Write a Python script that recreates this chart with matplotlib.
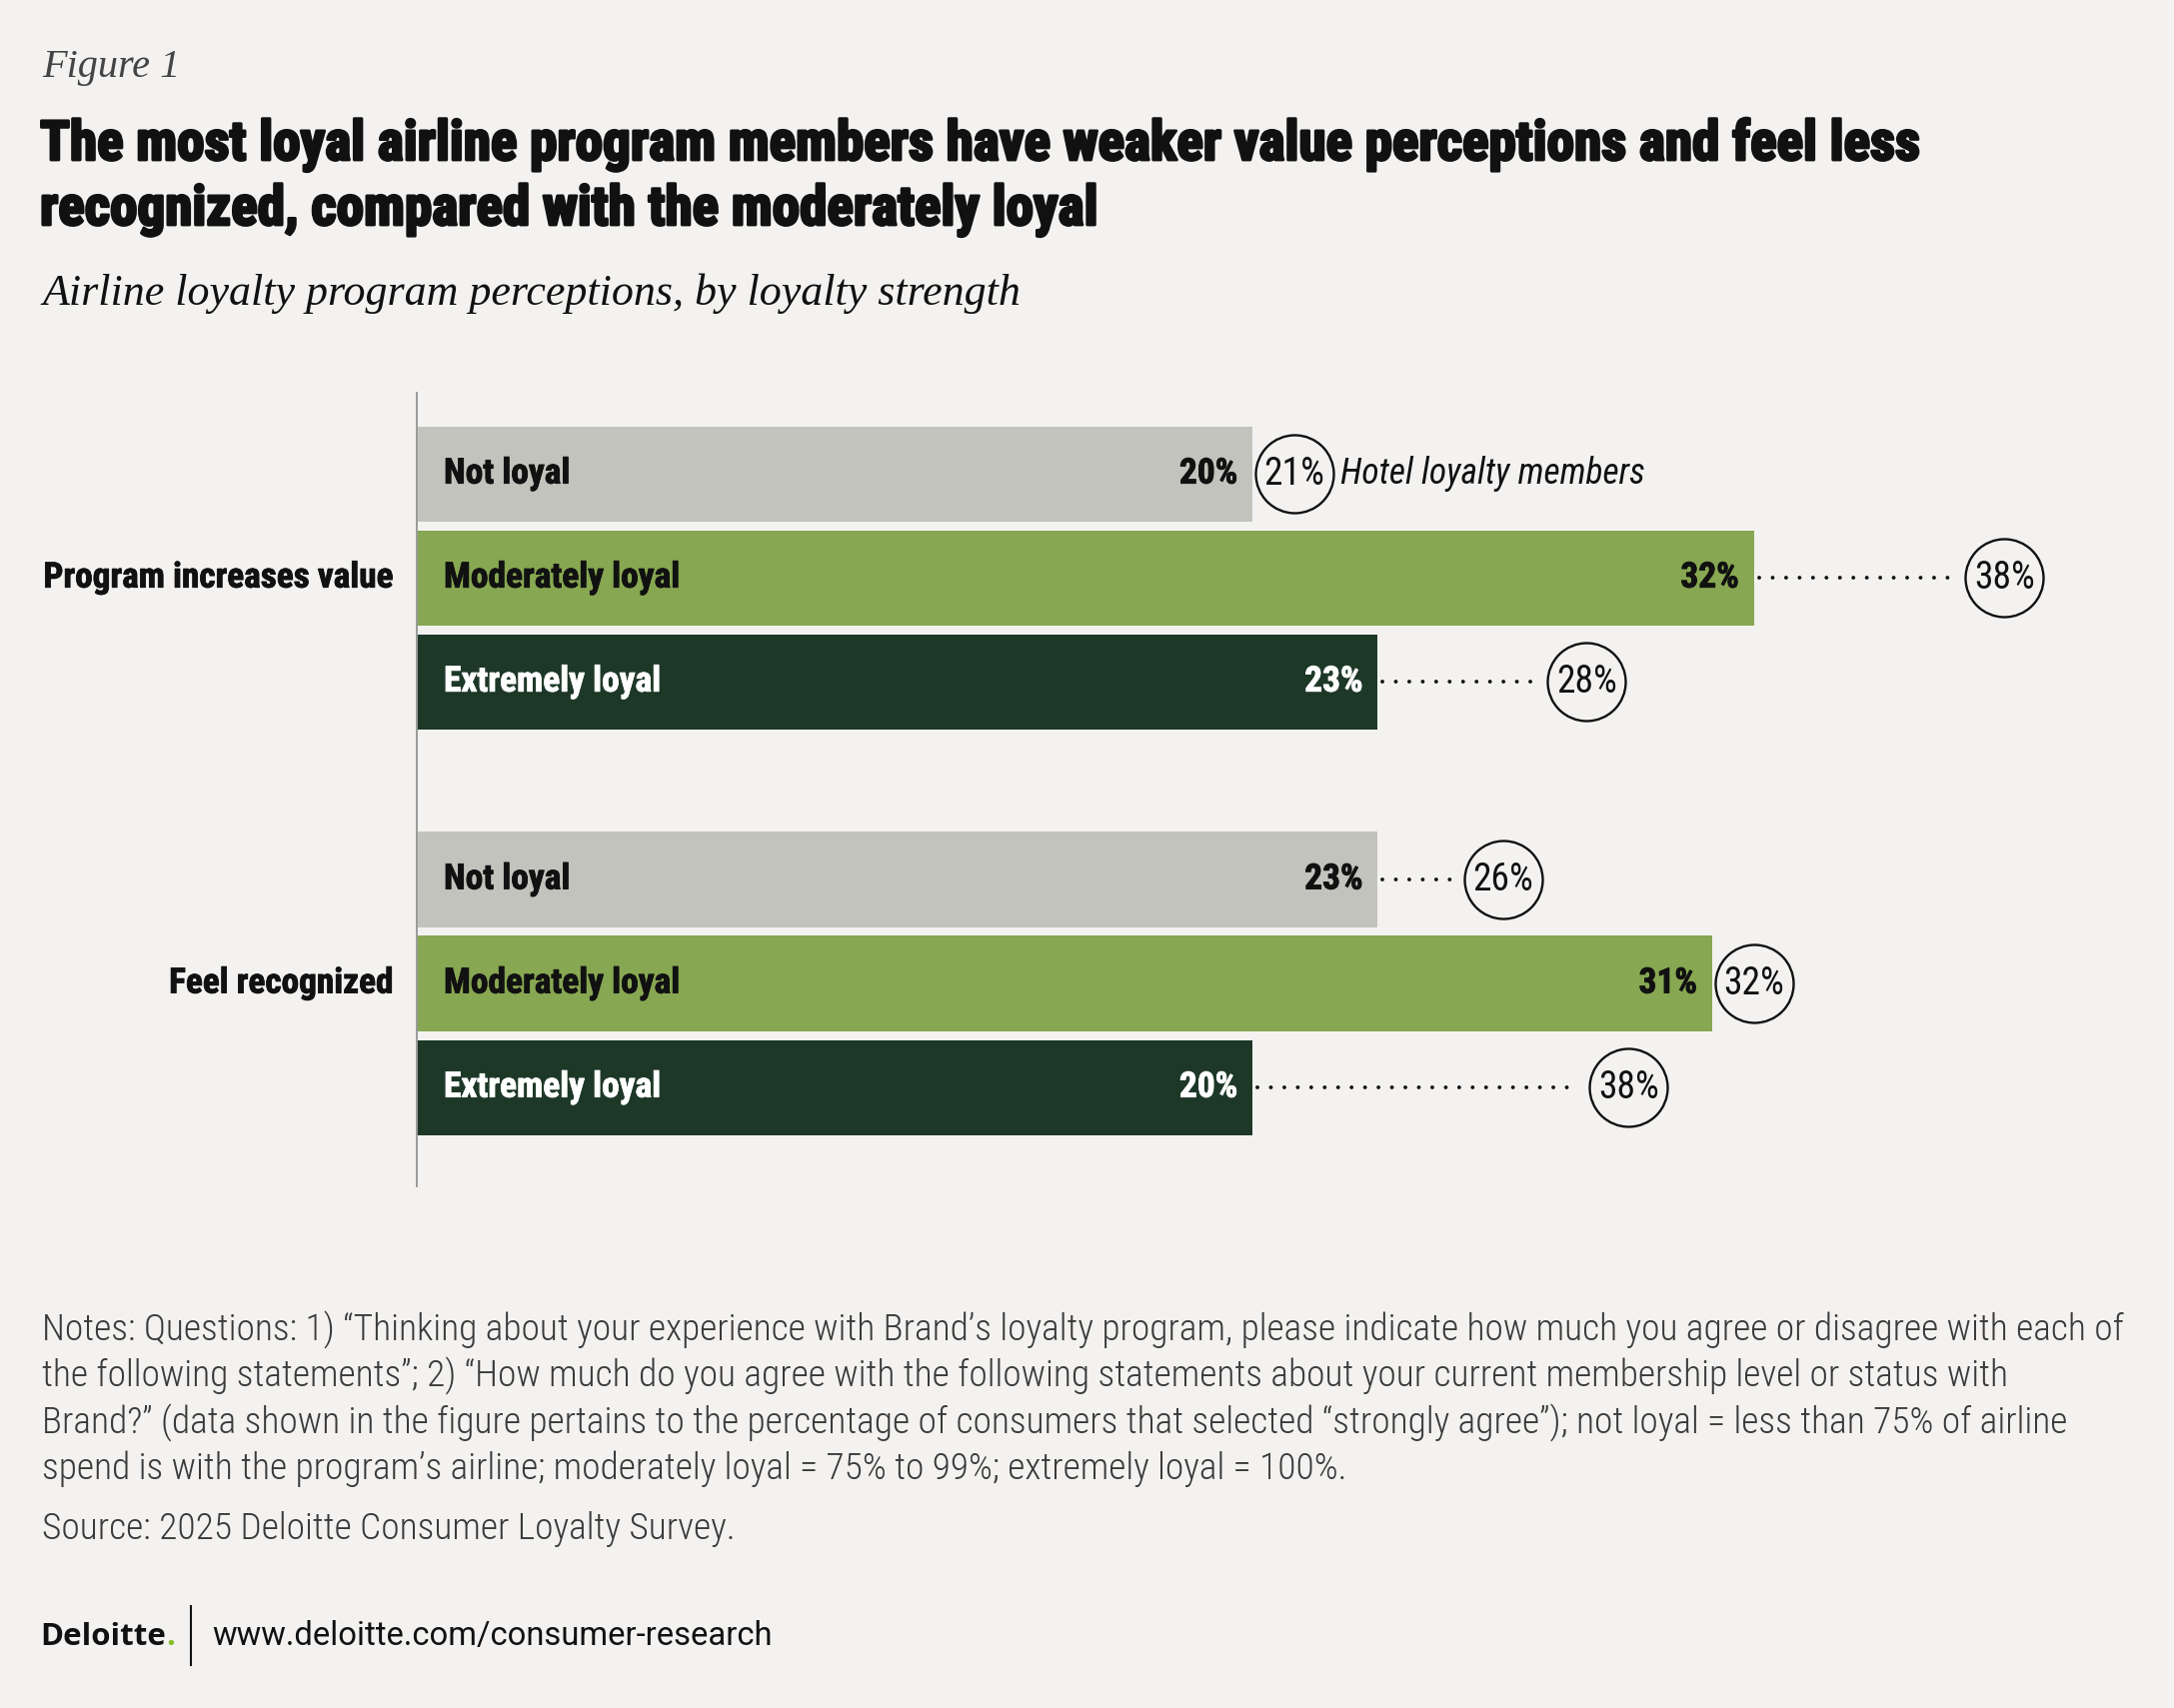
import matplotlib.pyplot as plt
import matplotlib.patheffects as pe
from matplotlib.lines import Line2D

# data
groups = ["Program increases value", "Feel recognized"]
segments = ["Not loyal", "Moderately loyal", "Extremely loyal"]
airline_pct = [[20, 32, 23], [23, 31, 20]]
# hotel circles: position as drawn, and the label printed in the circle
hotel_pos = [[21, 38, 28], [26, 32, 29]]
hotel_labels = [["21%", "38%", "28%"], ["26%", "32%", "38%"]]

notes = [
    "Notes: Questions: 1) \u201cThinking about your experience with Brand\u2019s loyalty program, please indicate how much you agree or disagree with each of",
    "the following statements\u201d; 2) \u201cHow much do you agree with the following statements about your current membership level or status with",
    "Brand?\u201d (data shown in the figure pertains to the percentage of consumers that selected \u201cstrongly agree\u201d); not loyal = less than 75% of airline",
    "spend is with the program\u2019s airline; moderately loyal = 75% to 99%; extremely loyal = 100%.",
]
source = "Source: 2025 Deloitte Consumer Loyalty Survey."

# styling
bg = "#f3f2f0"
seg_colors = ["#c2c3bd", "#87a752", "#1e3828"]
seg_text = ["#111111", "#111111", "#ffffff"]
cond = ["Roboto Condensed", "Liberation Sans Narrow", "Roboto"]
serif = ["Liberation Serif", "DejaVu Serif"]

W, H = 2175, 1709
fig = plt.figure(figsize=(W / 100, H / 100), dpi=100, facecolor=bg)


def fx(x):
    return x / W


def fy(y):
    return 1 - y / H


# axes: x = percent, y = bar slots
ax_left, ax_top, ax_bottom = 417, 393, 1187
ppu = 41.8  # pixels per percent
xmax = 40
ax = fig.add_axes([fx(ax_left), fy(ax_bottom), xmax * ppu / W, (ax_bottom - ax_top) / H])
ax.set_facecolor(bg)
ax.set_xlim(0, xmax)
ax.set_ylim(6.85, -0.78)
for s in ["top", "right", "bottom"]:
    ax.spines[s].set_visible(False)
ax.spines["left"].set_color("#9a9a9a")
ax.spines["left"].set_linewidth(1.4)
ax.set_xticks([])
ax.set_yticks([])

group_start = [0, 3.9]
bar_h = 0.915
r_px = 39  # circle radius in px
bold_fx = [pe.withStroke(linewidth=0.6, foreground="#111111")]

for g, gname in enumerate(groups):
    ys = [group_start[g] + i for i in range(3)]
    ax.barh(ys, airline_pct[g], height=bar_h, color=seg_colors, zorder=2)
    ax.annotate(gname, (0, ys[1]), xytext=(-24 * 0.72, 0), textcoords="offset points",
                ha="right", va="center", fontsize=25.4, fontweight="bold", family=cond,
                color="#111111", path_effects=bold_fx)
    for i in range(3):
        v, h, y = airline_pct[g][i], hotel_pos[g][i], ys[i]
        stroke = [pe.withStroke(linewidth=0.6, foreground=seg_text[i])]
        ax.annotate(segments[i], (0, y), xytext=(27 * 0.72, 0), textcoords="offset points",
                    ha="left", va="center", fontsize=25.5, fontweight="bold", family=cond,
                    color=seg_text[i], path_effects=stroke)
        ax.annotate(f"{v}%", (v, y), xytext=(-15 * 0.72, 0), textcoords="offset points",
                    ha="right", va="center", fontsize=25.5, fontweight="bold", family=cond,
                    color=seg_text[i], path_effects=stroke)
        # dotted leader from bar end to circle
        x0 = v + 5 / ppu
        x1 = h - (r_px + 10) / ppu
        if x1 - x0 > 20 / ppu:
            ax.plot([x0, x1], [y, y], color="#111111", linewidth=2.8,
                    linestyle=(0, (0.01, 3.45)), dash_capstyle="round", zorder=3)
        ax.scatter([h], [y], s=(2 * r_px * 0.72) ** 2, facecolors=bg, edgecolors="#111111",
                   linewidths=1.7, zorder=4)
        ax.text(h, y, hotel_labels[g][i], ha="center", va="center", fontsize=27,
                family=cond, color="#111111", zorder=5)

ax.annotate("Hotel loyalty members", (hotel_pos[0][0], group_start[0]),
            xytext=((r_px + 7) * 0.72, 0), textcoords="offset points", ha="left", va="center",
            fontsize=25.6, style="italic", family=cond, color="#111111")

# header
fig.text(fx(42), fy(77), "Figure 1", fontsize=29, style="italic", family=serif,
         color="#444444", va="baseline")
title_lines = ["The most loyal airline program members have weaker value perceptions and feel less",
               "recognized, compared with the moderately loyal"]
for k, line in enumerate(title_lines):
    fig.text(fx(40), fy(160 + 65 * k), line, fontsize=39.7, fontweight="bold", family=cond,
             color="#111111", va="baseline",
             path_effects=[pe.withStroke(linewidth=2.0, foreground="#111111")])
fig.text(fx(42), fy(305), "Airline loyalty program perceptions, by loyalty strength", fontsize=31.7,
         style="italic", family=serif, color="#111111", va="baseline")

# notes and source
for k, line in enumerate(notes):
    fig.text(fx(42), fy(1341 + 46.5 * k), line, fontsize=26.9, fontweight="light", family=cond,
             color="#3a3a3a", va="baseline")
fig.text(fx(42), fy(1540), source, fontsize=26.9, fontweight="light", family=cond,
         color="#3a3a3a", va="baseline")

# footer
logo = fig.text(fx(40), fy(1646), "Deloitte", fontsize=22.5, fontweight="bold",
                family=["Open Sans", "DejaVu Sans"], color="#111111", va="baseline")
ax.annotate(".", xy=(1, 0), xycoords=logo, ha="left", va="bottom", fontsize=22.5,
            fontweight="bold", family=["Open Sans", "DejaVu Sans"], color="#86bc25")
fig.add_artist(Line2D([fx(191), fx(191)], [fy(1607), fy(1666)], color="#111111", linewidth=1.5))
fig.text(fx(212), fy(1646), "www.deloitte.com/consumer-research", fontsize=23.6,
         family=["Roboto", "DejaVu Sans"], color="#111111", va="baseline")

fig.savefig("out.png", dpi=100, facecolor=bg)
